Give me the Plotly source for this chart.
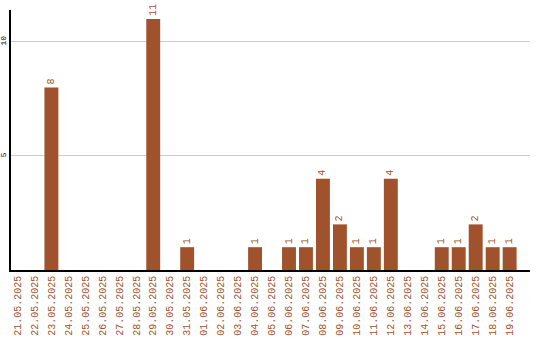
import plotly.graph_objects as go

dates = ["21.05.2025","22.05.2025","23.05.2025","24.05.2025","25.05.2025","26.05.2025",
         "27.05.2025","28.05.2025","29.05.2025","30.05.2025","31.05.2025","01.06.2025",
         "02.06.2025","03.06.2025","04.06.2025","05.06.2025","06.06.2025","07.06.2025",
         "08.06.2025","09.06.2025","10.06.2025","11.06.2025","12.06.2025","13.06.2025",
         "14.06.2025","15.06.2025","16.06.2025","17.06.2025","18.06.2025","19.06.2025"]
values = [0,0,8,0,0,0,0,0,11,0,1,0,0,0,1,0,1,1,4,2,1,1,4,0,0,1,1,2,1,1]
labels = [str(v) if v else "" for v in values]
y_ticks = [5, 10]

color = "#A0522D"
font = "Liberation Mono, Courier New, monospace"

fig = go.Figure(go.Bar(
    x=list(range(len(dates))), y=values, marker_color=color, marker_line_width=0,
    width=0.82, text=labels, textposition="outside", textangle=-90,
    textfont=dict(family=font, size=10, color=color), cliponaxis=False,
))
fig.update_layout(
    width=540, height=340, margin=dict(l=11, r=10, t=10, b=70),
    plot_bgcolor="white", paper_bgcolor="white", showlegend=False,
    uniformtext=dict(minsize=10, mode="show"),
    xaxis=dict(tickmode="array", tickvals=list(range(len(dates))), ticktext=dates,
               tickangle=-90, tickfont=dict(family=font, size=10, color=color),
               range=[-0.38, 30.2], showgrid=False, showline=True, linecolor="black",
               linewidth=1.5, ticks="", zeroline=False, automargin=False),
    yaxis=dict(tickvals=y_ticks, tickangle=-90, tickfont=dict(family=font, size=8, color="black"),
               range=[0, 11.4], showgrid=True, gridcolor="#cccccc", gridwidth=1,
               showline=True, linecolor="black", linewidth=1.5, zeroline=False, ticks="",
               automargin=False),
)
fig.write_html("out.html")
